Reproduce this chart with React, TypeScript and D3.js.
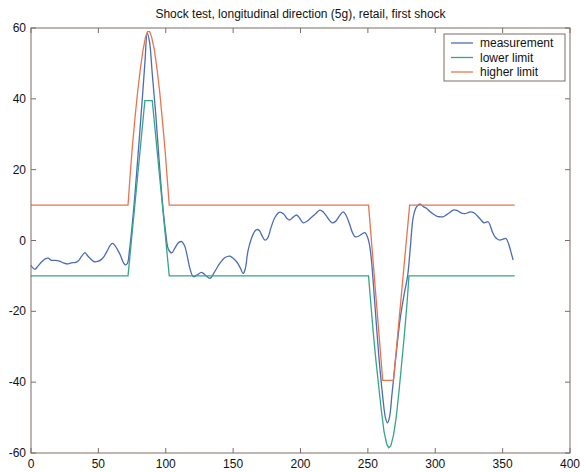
import React from "react";
import * as d3 from "d3";

const measurement: [number, number][] = [
  [0, -7.0], [1.5, -7.8], [3, -8.1], [5, -7.3], [8, -6.0], [10.5, -5.2], [13, -5.0], [15, -5.6],
  [18, -5.6], [21, -5.8], [24, -6.3], [27, -6.6], [30, -6.3], [33, -6.2], [35, -5.8], [37.5, -4.5],
  [40, -3.4], [42, -4.3], [44.5, -5.3], [47, -6.0], [49.5, -5.9], [52, -5.4], [54, -4.6], [56.5, -3],
  [58.5, -1.5], [60.5, -0.8], [62.5, -1.5], [64.5, -2.8], [66.5, -4.3], [68.5, -6.2], [70, -6.9],
  [71.5, -6.5], [73, -3], [76, 8], [79, 22], [82, 37], [84.5, 50], [86.3, 58.5], [88, 56], [90, 47],
  [92.5, 36], [95, 23], [97.5, 11], [100, 2], [102, -2.5], [104.4, -3.5], [107, -2], [109.5, -0.6],
  [111.8, -0.3], [114, -1.5], [116, -4.5], [118, -8], [120.4, -10.2], [123, -9.8], [126.6, -9.0],
  [129.5, -9.8], [132.8, -10.7], [136, -9], [140.2, -6.4], [144, -4.8], [147.6, -4.4], [150, -5],
  [152.6, -6.0], [155, -7.5], [157.5, -9.3], [159, -8], [161, -3], [163.5, 0.5], [166, 2.6],
  [167.5, 3.1], [169.5, 2.8], [171.5, 1.3], [173.6, 0.1], [175.5, 0.6], [178, 3.5], [181, 6.5],
  [184.5, 8.0], [187.5, 7.5], [190, 6.2], [192.1, 5.8], [194.5, 6.6], [197.1, 7.2], [199.5, 6.2],
  [202, 5.0], [205, 5.5], [208, 6.5], [211, 7.5], [214.4, 8.6], [217, 8.0], [220, 6.5], [223.5, 5.0],
  [226, 5.4], [229, 7.0], [231.7, 8.1], [234, 7.0], [236.5, 4.5], [238.5, 2.3], [240.4, 1.1],
  [243, 1.2], [245.5, 1.8], [247.8, 2.2], [249.5, 1.2], [251, -0.8], [252.5, -5], [255, -17],
  [258, -32], [261, -44], [263, -50], [264.5, -51.5], [266, -50], [268, -43], [271, -32], [274, -22],
  [277, -15], [279.5, -10], [281.5, -2], [283.7, 6.7], [286, 9.4], [288.6, 10.3], [291, 9.6],
  [293.5, 9.1], [296, 8.2], [298.5, 7.5], [301, 6.9], [303.5, 6.7], [305.9, 6.7], [308.5, 7.3],
  [311, 8.0], [313.3, 8.6], [316, 8.5], [319.5, 7.7], [322, 7.6], [324.5, 7.9], [326.9, 8.1],
  [329.5, 7.6], [331.8, 6.7], [334, 5.8], [336.1, 5.0], [338, 5.2], [339.3, 5.3], [341, 4],
  [342.5, 2.3], [344.2, 1.1], [346, 0.4], [347.9, 0.1], [350, 0.3], [352.4, 0.6], [354.5, -1],
  [356, -3], [357.8, -5.5],
];

const lowerLimit: [number, number][] = [
  [0, -10], [72, -10], [84.5, 39.5], [90, 39.5], [102.6, -10], [250.5, -10], [252, -17], [254, -26],
  [256, -34], [258, -41], [260, -48], [262, -54], [264, -57.5], [265.5, -58.5], [267, -58], [269, -55],
  [271, -50], [273, -43], [275, -35], [277, -27], [279, -18], [280.5, -10], [359, -10],
];

const higherLimit: [number, number][] = [
  [0, 10], [72, 10], [73.5, 18], [75, 25.5], [77, 34], [79, 41.5], [81, 48], [83, 53.5], [85, 57.5],
  [86.5, 59], [88, 59], [89.5, 57.5], [91.5, 54], [93.5, 48.5], [95.5, 42], [97.5, 34], [99.5, 25.5],
  [101, 18], [102.6, 10], [250.5, 10], [261, -39.5], [269, -39.5], [281, 10], [359, 10],
];

const xTicks = [0, 50, 100, 150, 200, 250, 300, 350, 400];
const yTicks = [-60, -40, -20, 0, 20, 40, 60];
const legendLabels = ["measurement", "lower limit", "higher limit"];
const colors = ["#4a6db6", "#37a487", "#e8744f"];

const W = 581;
const H = 472;
const left = 31;
const right = 570;
const top = 28;
const bottom = 453;
const frame = "#7d6c64";
const font = "Liberation Sans, Arial, sans-serif";

export default function App() {
  const x = d3.scaleLinear().domain([0, 400]).range([left, right]);
  const y = d3.scaleLinear().domain([-60, 60]).range([bottom, top]);

  const smooth = d3
    .line<[number, number]>()
    .x((d) => x(d[0]))
    .y((d) => y(d[1]))
    .curve(d3.curveCatmullRom.alpha(0.5));
  const straight = d3
    .line<[number, number]>()
    .x((d) => x(d[0]))
    .y((d) => y(d[1]));

  const series = [smooth(measurement), straight(lowerLimit), straight(higherLimit)];

  return (
    <div>
      <style>{`body{margin:0;background:#fff}`}</style>
      <svg width={W} height={H} style={{ display: "block", fontFamily: font }}>
        <rect width={W} height={H} fill="#fff" />
        <text x={(left + right) / 2} y={18} textAnchor="middle" fontSize={12} fill="#111">
          Shock test, longitudinal direction (5g), retail, first shock
        </text>

        {series.map((d, i) => (
          <path key={i} d={d || ""} fill="none" stroke={colors[i]} strokeWidth={1.3} />
        ))}

        <rect x={left} y={top} width={right - left} height={bottom - top} fill="none" stroke={frame} strokeWidth={1} />

        {xTicks.map((t) => (
          <g key={"x" + t}>
            <line x1={x(t)} x2={x(t)} y1={bottom} y2={bottom - 5} stroke={frame} />
            <line x1={x(t)} x2={x(t)} y1={top} y2={top + 5} stroke={frame} />
            <text x={x(t)} y={468} textAnchor="middle" fontSize={12} fill="#111">
              {t}
            </text>
          </g>
        ))}
        {yTicks.map((t) => (
          <g key={"y" + t}>
            <line x1={left} x2={left + 5} y1={y(t)} y2={y(t)} stroke={frame} />
            <line x1={right} x2={right - 5} y1={y(t)} y2={y(t)} stroke={frame} />
            <text x={26} y={y(t) + 4} textAnchor="end" fontSize={12} fill="#111">
              {t}
            </text>
          </g>
        ))}

        <g>
          <rect x={444} y={34} width={121} height={47} fill="#fff" stroke={frame} strokeWidth={1} />
          {legendLabels.map((label, i) => (
            <g key={label}>
              <line x1={451} x2={473} y1={43 + i * 14.5} y2={43 + i * 14.5} stroke={colors[i]} strokeWidth={1.3} />
              <text x={480} y={47 + i * 14.5} fontSize={12} fill="#111">
                {label}
              </text>
            </g>
          ))}
        </g>
      </svg>
    </div>
  );
}
